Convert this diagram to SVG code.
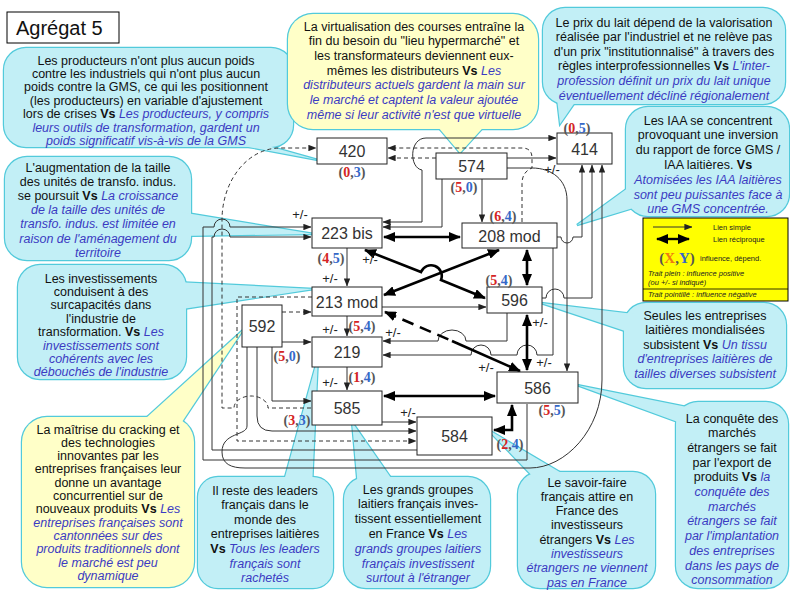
<svg xmlns="http://www.w3.org/2000/svg" xmlns:xlink="http://www.w3.org/1999/xlink" width="790" height="590" viewBox="0 0 790 590">
<defs>
<style>
.ln{fill:none;stroke:#333;stroke-width:1}
.ds{stroke-dasharray:4 3}
.tk{fill:none;stroke:#000;stroke-width:2.6}
.nb{fill:#fff;stroke:#222;stroke-width:1}
.nt{font-family:"Liberation Sans",Arial,sans-serif;font-size:16px;fill:#333;text-anchor:middle}
.pm{font-family:"Liberation Sans",Arial,sans-serif;font-size:13px;fill:#222;text-anchor:middle}
.xy{font-family:"Liberation Serif","Times New Roman",serif;font-size:14px;font-weight:bold;fill:#555;text-anchor:middle}
.r{fill:#d42424}.b{fill:#3567c8}.o{fill:#f07a10}
.ct{font-family:"Liberation Sans",Arial,sans-serif;font-size:12.5px;fill:#111;text-anchor:middle}
.vs{font-weight:bold}
.it{font-style:italic;fill:#3b3bc2}
.cs{fill:#c2eff6;stroke:#52cadb;stroke-width:2.4}
.cys{fill:#ffffc8;stroke:#52cadb;stroke-width:2.4}
.cf{fill:#c2eff6;stroke:none}
.cyf{fill:#ffffc8;stroke:none}
.lg{font-family:"Liberation Sans",Arial,sans-serif;font-size:7.5px;fill:#222}
.lgi{font-family:"Liberation Sans",Arial,sans-serif;font-size:7.5px;fill:#222;font-style:italic}
</style>
<marker id="ah" viewBox="0 0 10 8" refX="9.5" refY="4" markerWidth="8" markerHeight="6.4" markerUnits="userSpaceOnUse" orient="auto-start-reverse"><path d="M0,0 L10,4 L0,8 z" fill="#222"/></marker>
<marker id="AH" viewBox="0 0 12 10" refX="11" refY="5" markerWidth="12" markerHeight="10" markerUnits="userSpaceOnUse" orient="auto-start-reverse"><path d="M0,0 L12,5 L0,10 z" fill="#000"/></marker>
<g id="s1"><rect x="4" y="48" width="289" height="99" rx="22"/><polygon points="226,134 238,145 318,160"/></g>
<g id="s2"><rect x="288" y="14" width="250" height="115" rx="25"/><polygon points="432,120 490,120 460,153"/></g>
<g id="s3"><rect x="543" y="8" width="242" height="96" rx="22"/><polygon points="556,90 578,98 560,124"/></g>
<g id="s4"><rect x="626" y="107" width="163" height="109" rx="22"/><polygon points="636,182 640,206 577,225"/></g>
<g id="s5"><rect x="5" y="157" width="186" height="103" rx="22"/><polygon points="180,212 180,236 314,234"/></g>
<g id="s6"><rect x="18" y="265" width="168" height="114" rx="22"/><polygon points="176,282 176,310 314,289"/></g>
<g id="s7"><rect x="624" y="303" width="162" height="85" rx="22"/><polygon points="634,314 634,334 541,303"/></g>
<g id="s8"><rect x="22" y="417" width="172" height="170" rx="25"/><polygon points="135,428 178,428 243,330"/></g>
<g id="s9"><rect x="198" y="477" width="135" height="111" rx="20"/><polygon points="282,488 312,488 318,357"/></g>
<g id="s10"><rect x="344" y="477" width="146" height="111" rx="22"/><polygon points="358,488 398,488 352,422"/></g>
<g id="s11"><rect x="518" y="472" width="137" height="116" rx="22"/><polygon points="540,484 580,484 487,429"/></g>
<g id="s12"><rect x="676" y="402" width="112" height="186" rx="22"/><polygon points="686,425 712,412 577,385"/></g>
</defs>
<rect width="790" height="590" fill="#fff"/>

<g id="callouts">
<g id="c1"><use xlink:href="#s1" class="cs"/><use xlink:href="#s1" class="cf"/>
<text class="ct" x="146" y="64.5"><tspan x="146">Les producteurs n'ont plus aucun poids</tspan><tspan x="146" dy="13.4">contre les industriels qui n'ont plus aucun</tspan><tspan x="146" dy="13.4">poids contre la GMS, ce qui les positionnent</tspan><tspan x="146" dy="13.4">(les producteurs) en variable d'ajustement</tspan><tspan x="146" dy="13.4">lors de crises <tspan class="vs">Vs</tspan> <tspan class="it">Les producteurs, y compris</tspan></tspan><tspan x="146" dy="13.4" class="it">leurs outils de transformation, gardent un</tspan><tspan x="146" dy="13.4" class="it">poids significatif vis-à-vis de la GMS</tspan></text></g>
<g id="c2"><use xlink:href="#s2" class="cys"/><use xlink:href="#s2" class="cyf"/>
<text class="ct" x="414" y="30.5"><tspan x="414">La virtualisation des courses entraîne la</tspan><tspan x="414" dy="14.7">fin du besoin du "lieu hypermarché" et</tspan><tspan x="414" dy="14.7">les transformateurs deviennent eux-</tspan><tspan x="414" dy="14.7">mêmes les distributeurs <tspan class="vs">Vs</tspan> <tspan class="it">Les</tspan></tspan><tspan x="414" dy="14.7" class="it">distributeurs actuels gardent la main sur</tspan><tspan x="414" dy="14.7" class="it">le marché et captent la valeur ajoutée</tspan><tspan x="414" dy="14.7" class="it">même si leur activité n'est que virtuelle</tspan></text></g>
<g id="c3"><use xlink:href="#s3" class="cs"/><use xlink:href="#s3" class="cf"/>
<text class="ct" x="664" y="26.5"><tspan x="664">Le prix du lait dépend de la valorisation</tspan><tspan x="664" dy="14.6">réalisée par l'industriel et ne relève pas</tspan><tspan x="664" dy="14.6">d'un prix "institutionnalisé" à travers des</tspan><tspan x="664" dy="14.6">règles interprofessionnelles <tspan class="vs">Vs</tspan> <tspan class="it">L'inter-</tspan></tspan><tspan x="664" dy="14.6" class="it">profession définit un prix du lait unique</tspan><tspan x="664" dy="14.6" class="it">éventuellement décliné régionalement</tspan></text></g>
<g id="c4"><use xlink:href="#s4" class="cs"/><use xlink:href="#s4" class="cf"/>
<text class="ct" x="708" y="124.5"><tspan x="708">Les IAA se concentrent</tspan><tspan x="708" dy="14.8">provoquant une inversion</tspan><tspan x="708" dy="14.8">du rapport de force GMS /</tspan><tspan x="708" dy="14.8">IAA laitières. <tspan class="vs">Vs</tspan></tspan><tspan x="708" dy="14.8" class="it">Atomisées les IAA laitières</tspan><tspan x="708" dy="14.8" class="it">sont peu puissantes face à</tspan><tspan x="708" dy="14.8" class="it">une GMS concentrée.</tspan></text></g>
<g id="c5"><use xlink:href="#s5" class="cs"/><use xlink:href="#s5" class="cf"/>
<text class="ct" x="98" y="171.5"><tspan x="98">L'augmentation de la taille</tspan><tspan x="98" dy="14.2">des unités de transfo. indus.</tspan><tspan x="98" dy="14.2">se poursuit <tspan class="vs">Vs</tspan> <tspan class="it">La croissance</tspan></tspan><tspan x="98" dy="14.2" class="it">de la taille des unités de</tspan><tspan x="98" dy="14.2" class="it">transfo. indus. est limitée en</tspan><tspan x="98" dy="14.2" class="it">raison de l'aménagement du</tspan><tspan x="98" dy="14.2" class="it">territoire</tspan></text></g>
<g id="c6"><use xlink:href="#s6" class="cs"/><use xlink:href="#s6" class="cf"/>
<text class="ct" x="101" y="282.5"><tspan x="101">Les investissements</tspan><tspan x="101" dy="13.4">conduisent à des</tspan><tspan x="101" dy="13.4">surcapacités dans</tspan><tspan x="101" dy="13.4">l'industrie de</tspan><tspan x="101" dy="13.4">transformation. <tspan class="vs">Vs</tspan> <tspan class="it">Les</tspan></tspan><tspan x="101" dy="13.4" class="it">investissements sont</tspan><tspan x="101" dy="13.4" class="it">cohérents avec les</tspan><tspan x="101" dy="13.4" class="it">débouchés de l'industrie</tspan></text></g>
<g id="c7"><use xlink:href="#s7" class="cs"/><use xlink:href="#s7" class="cf"/>
<text class="ct" x="705" y="319.5"><tspan x="705">Seules les entreprises</tspan><tspan x="705" dy="14.5">laitières mondialisées</tspan><tspan x="705" dy="14.5">subsistent <tspan class="vs">Vs</tspan> <tspan class="it">Un tissu</tspan></tspan><tspan x="705" dy="14.5" class="it">d'entreprises laitières de</tspan><tspan x="705" dy="14.5" class="it">tailles diverses subsistent</tspan></text></g>
<g id="c8"><use xlink:href="#s8" class="cys"/><use xlink:href="#s8" class="cyf"/>
<text class="ct" x="108" y="433.5"><tspan x="108">La maîtrise du cracking et</tspan><tspan x="108" dy="13.3">des technologies</tspan><tspan x="108" dy="13.3">innovantes par les</tspan><tspan x="108" dy="13.3">entreprises françaises leur</tspan><tspan x="108" dy="13.3">donne un avantage</tspan><tspan x="108" dy="13.3">concurrentiel sur de</tspan><tspan x="108" dy="13.3">nouveaux produits <tspan class="vs">Vs</tspan> <tspan class="it">Les</tspan></tspan><tspan x="108" dy="13.3" class="it">entreprises françaises sont</tspan><tspan x="108" dy="13.3" class="it">cantonnées sur des</tspan><tspan x="108" dy="13.3" class="it">produits traditionnels dont</tspan><tspan x="108" dy="13.3" class="it">le marché est peu</tspan><tspan x="108" dy="13.3" class="it">dynamique</tspan></text></g>
<g id="c9"><use xlink:href="#s9" class="cs"/><use xlink:href="#s9" class="cf"/>
<text class="ct" x="265" y="494.5"><tspan x="265">Il reste des leaders</tspan><tspan x="265" dy="14.6">français dans le</tspan><tspan x="265" dy="14.6">monde des</tspan><tspan x="265" dy="14.6">entreprises laitières</tspan><tspan x="265" dy="14.6"><tspan class="vs">Vs</tspan> <tspan class="it">Tous les leaders</tspan></tspan><tspan x="265" dy="14.6" class="it">français sont</tspan><tspan x="265" dy="14.6" class="it">rachetés</tspan></text></g>
<g id="c10"><use xlink:href="#s10" class="cs"/><use xlink:href="#s10" class="cf"/>
<text class="ct" x="418" y="493.5"><tspan x="418">Les grands groupes</tspan><tspan x="418" dy="14.8">laitiers français inves-</tspan><tspan x="418" dy="14.8">tissent essentiellement</tspan><tspan x="418" dy="14.8">en France <tspan class="vs">Vs</tspan> <tspan class="it">Les</tspan></tspan><tspan x="418" dy="14.8" class="it">grands groupes laitiers</tspan><tspan x="418" dy="14.8" class="it">français investissent</tspan><tspan x="418" dy="14.8" class="it">surtout à l'étranger</tspan></text></g>
<g id="c11"><use xlink:href="#s11" class="cs"/><use xlink:href="#s11" class="cf"/>
<text class="ct" x="587" y="486.5"><tspan x="587">Le savoir-faire</tspan><tspan x="587" dy="14.3">français attire en</tspan><tspan x="587" dy="14.3">France des</tspan><tspan x="587" dy="14.3">investisseurs</tspan><tspan x="587" dy="14.3">étrangers <tspan class="vs">Vs</tspan> <tspan class="it">Les</tspan></tspan><tspan x="587" dy="14.3" class="it">investisseurs</tspan><tspan x="587" dy="14.3" class="it">étrangers ne viennent</tspan><tspan x="587" dy="14.3" class="it">pas en France</tspan></text></g>
<g id="c12"><use xlink:href="#s12" class="cs"/><use xlink:href="#s12" class="cf"/>
<text class="ct" x="732" y="422.5"><tspan x="732">La conquête des</tspan><tspan x="732" dy="14.7">marchés</tspan><tspan x="732" dy="14.7">étrangers se fait</tspan><tspan x="732" dy="14.7">par l'export de</tspan><tspan x="732" dy="14.7">produits  <tspan class="vs">Vs</tspan> <tspan class="it">la</tspan></tspan><tspan x="732" dy="14.7" class="it">conquête des</tspan><tspan x="732" dy="14.7" class="it">marchés</tspan><tspan x="732" dy="14.7" class="it">étrangers se fait</tspan><tspan x="732" dy="14.7" class="it">par l'implantation</tspan><tspan x="732" dy="14.7" class="it">des entreprises</tspan><tspan x="732" dy="14.7" class="it">dans les pays de</tspan><tspan x="732" dy="14.7" class="it">consommation</tspan></text></g>
</g>

<g id="connectors">
<path class="ln" d="M347,248 V286" marker-end="url(#ah)"/>
<path class="ln" d="M347,316 V336" marker-end="url(#ah)"/>
<path class="ln" d="M347,367 V390" marker-end="url(#ah)"/>
<path class="ln" d="M482,179 V222" marker-end="url(#ah)"/>
<path class="ln" d="M442,179 V227 H383" marker-end="url(#ah)"/>
<path class="ln" d="M383,222 H422 V170 C409,168 409,138 426,138 H556" marker-start="url(#ah)" marker-end="url(#ah)"/>
<path class="ln" d="M507,158 H556" marker-end="url(#ah)"/>
<path class="ln" d="M507,168 H532 C552,168 567,180 567,200 V371" marker-end="url(#ah)"/>
<path class="ln" d="M557,237 H561 A6,6 0 0 0 573,237 H582 V165" marker-end="url(#ah)"/>
<path class="ln" d="M542,298 H546 A9,9 0 0 1 564,298 H592 V165" marker-end="url(#ah)"/>
<path class="ln" d="M553,248 V355 H537 A10,10 0 0 0 517,355 H491 A10,10 0 0 0 471,355 H383" marker-end="url(#ah)"/>
<path class="ln" d="M507,313 V341 H466 A14,11 0 0 0 438,341 H383" marker-end="url(#ah)"/>
<path class="ln" d="M382,307 H486" marker-end="url(#ah)"/>
<path class="ln ds" d="M282,312 H311" marker-end="url(#ah)"/>
<path class="ln" d="M282,342 H311" marker-end="url(#ah)"/>
<path class="ln" d="M272,347 V401 H311" marker-end="url(#ah)"/>
<path class="ln" d="M257,347 V416 Q257,431 272,431 H416" marker-end="url(#ah)"/>
<path class="ln" d="M382,422 H416" marker-end="url(#ah)"/>
<path class="ln ds" d="M312,297 H237 V441 H416" marker-end="url(#ah)"/>
<path class="ln ds" d="M311,408 H268 A17,12 0 0 0 234,408 H222 V220 A58,72 0 0 1 280,148 H316" marker-end="url(#ah)"/>
<path class="ln ds" d="M522,222 V184 Q522,172 532,168 V158 Q532,148 522,148 H388" marker-end="url(#ah)"/>
<path class="ln ds" d="M436,158 H388" marker-end="url(#ah)"/>
<path class="ln" d="M527,404 V460 H203 V227 H214 A8,8 0 0 1 230,227 H311" marker-end="url(#ah)"/>
<path class="ln" d="M417,450 H212 V237 H214 A8,8 0 0 1 230,237 H311" marker-end="url(#ah)"/>
<path class="ln" d="M247,347 V426 C247,436 222,432 222,452 C222,464 231,468 245,468 H530 C565,468 602,430 602,380 V165" marker-end="url(#ah)"/>
<path class="tk" d="M384,237 H460" marker-start="url(#AH)" marker-end="url(#AH)"/>
<path class="tk" d="M527,250 V285" marker-start="url(#AH)" marker-end="url(#AH)"/>
<path class="tk" d="M527,315 V370" marker-start="url(#AH)" marker-end="url(#AH)"/>
<path class="tk" d="M384,396 H495" marker-start="url(#AH)" marker-end="url(#AH)"/>
<path class="tk" d="M494,430 H512 V405" marker-start="url(#AH)" marker-end="url(#AH)"/>
<path class="tk" d="M384,295 L499,250" marker-start="url(#AH)" marker-end="url(#AH)"/>
<path class="tk" d="M365,250 L421,272 A10,10 0 0 1 441,280 L485,298" marker-start="url(#AH)" marker-end="url(#AH)"/>
<path class="tk" d="M385,312 L452,341" stroke-dasharray="12 7" marker-start="url(#AH)"/>
<path class="tk" d="M452,341 L520,371" marker-end="url(#AH)"/>
</g>

<g id="title"><rect x="7" y="12" width="112" height="31" fill="#fff" stroke="#000" stroke-width="1"/><text x="16" y="35" font-family="Liberation Sans, Arial, sans-serif" font-size="20" fill="#111">Agrégat 5</text></g>

<g id="n420"><rect class="nb" x="317" y="138" width="70" height="26"/><text class="nt" x="352" y="157">420</text></g>
<g id="n574"><rect class="nb" x="436" y="153" width="71" height="26"/><text class="nt" x="471.5" y="172">574</text></g>
<g id="n414"><rect class="nb" x="557" y="133" width="55" height="31"/><text class="nt" x="584.5" y="154.5">414</text></g>
<g id="n223bis"><rect class="nb" x="312" y="218" width="70" height="30"/><text class="nt" x="347" y="239">223 bis</text></g>
<g id="n208mod"><rect class="nb" x="462" y="223" width="95" height="25"/><text class="nt" x="509.5" y="241.5">208 mod</text></g>
<g id="n213mod"><rect class="nb" x="312" y="287" width="70" height="29"/><text class="nt" x="347" y="307.5">213 mod</text></g>
<g id="n592"><rect class="nb" x="242" y="305" width="40" height="42"/><text class="nt" x="262" y="332">592</text></g>
<g id="n219"><rect class="nb" x="312" y="337" width="70" height="30"/><text class="nt" x="347" y="358">219</text></g>
<g id="n585"><rect class="nb" x="312" y="391" width="70" height="34"/><text class="nt" x="347" y="414">585</text></g>
<g id="n596"><rect class="nb" x="487" y="287" width="55" height="26"/><text class="nt" x="514.5" y="306">596</text></g>
<g id="n586"><rect class="nb" x="497" y="372" width="81" height="31"/><text class="nt" x="537.5" y="393.5">586</text></g>
<g id="n584"><rect class="nb" x="417" y="417" width="75" height="38"/><text class="nt" x="454.5" y="442">584</text></g>

<g id="scores">
<text class="xy" x="352" y="177">(<tspan class="r">0</tspan>,<tspan class="b">3</tspan>)</text>
<text class="xy" x="464" y="192">(<tspan class="r">5</tspan>,<tspan class="b">0</tspan>)</text>
<text class="xy" x="577" y="133">(<tspan class="r">0</tspan>,<tspan class="b">5</tspan>)</text>
<text class="xy" x="503" y="221">(<tspan class="r">6</tspan>,<tspan class="b">4</tspan>)</text>
<text class="xy" x="331" y="263">(<tspan class="r">4</tspan>,<tspan class="b">5</tspan>)</text>
<text class="xy" x="362" y="331">(<tspan class="r">5</tspan>,<tspan class="b">4</tspan>)</text>
<text class="xy" x="287" y="361">(<tspan class="r">5</tspan>,<tspan class="b">0</tspan>)</text>
<text class="xy" x="362" y="382">(<tspan class="r">1</tspan>,<tspan class="b">4</tspan>)</text>
<text class="xy" x="297" y="425">(<tspan class="r">3</tspan>,<tspan class="b">3</tspan>)</text>
<text class="xy" x="499" y="285">(<tspan class="r">5</tspan>,<tspan class="b">4</tspan>)</text>
<text class="xy" x="552" y="415">(<tspan class="r">5</tspan>,<tspan class="b">5</tspan>)</text>
<text class="xy" x="510" y="449">(<tspan class="r">2</tspan>,<tspan class="b">4</tspan>)</text>
</g>

<g id="signs">
<text class="pm" x="300" y="219">+/-</text>
<text class="pm" x="370" y="264">+/-</text>
<text class="pm" x="330" y="283">+/-</text>
<text class="pm" x="330" y="334">+/-</text>
<text class="pm" x="330" y="387">+/-</text>
<text class="pm" x="393" y="337">+/-</text>
<text class="pm" x="540" y="327">+/-</text>
<text class="pm" x="486" y="372">+/-</text>
<text class="pm" x="544" y="367">+/-</text>
<text class="pm" x="408" y="417">+/-</text>
<text class="pm" x="552" y="174">+/-</text>
</g>

<g id="legend">
<rect x="643" y="218" width="145" height="83" fill="#ffff00" stroke="#000" stroke-width="1"/>
<path class="ln" d="M653,227 H692" marker-end="url(#ah)"/>
<text class="lg" x="713" y="230">Lien simple</text>
<path d="M657,239 H689" fill="none" stroke="#000" stroke-width="2.4" marker-start="url(#AH)" marker-end="url(#AH)"/>
<text class="lg" x="713" y="242">Lien réciproque</text>
<text x="677" y="263" font-family="Liberation Serif, Times New Roman, serif" font-size="15" font-weight="bold" fill="#555" text-anchor="middle">(<tspan class="o">X</tspan>,<tspan class="b">Y</tspan>)</text>
<text class="lg" x="700" y="261">influence, dépend.</text>
<text class="lgi" x="648" y="276">Trait plein : influence positive</text>
<text class="lgi" x="648" y="285">(ou +/- si indiqué)</text>
<path d="M643,289 H788" stroke="#000" stroke-width="0.8"/>
<text class="lgi" x="648" y="297">Trait pointillé : influence négative</text>
</g>
</svg>
